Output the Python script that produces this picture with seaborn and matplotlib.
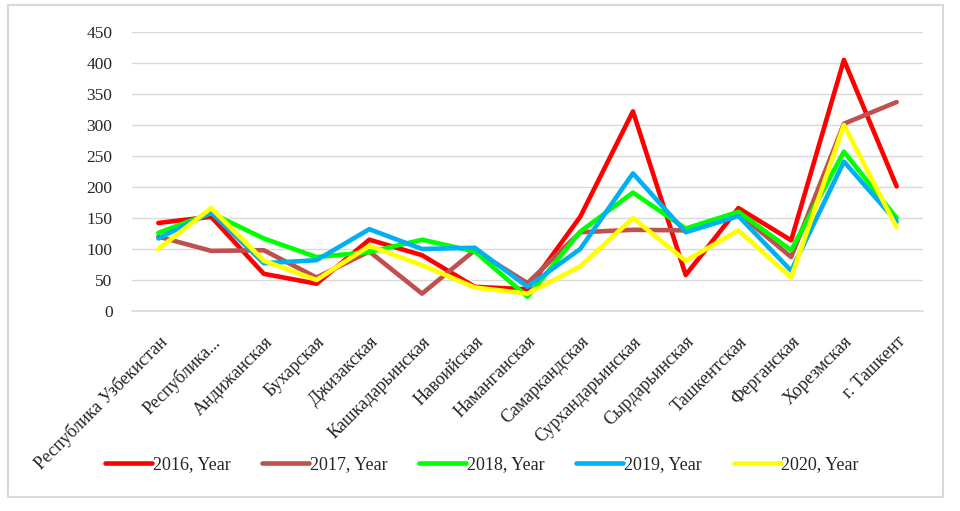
import matplotlib
matplotlib.use("Agg")
import matplotlib.pyplot as plt
import seaborn as sns
import pandas as pd
from matplotlib.patches import Rectangle

# регионы
regions = ["Республика Узбекистан", "Республика...", "Андижанская", "Бухарская",
           "Джизакская", "Кашкадарьинская", "Навоийская", "Наманганская",
           "Самаркандская", "Сурхандарьинская", "Сырдарьинская", "Ташкентская",
           "Ферганская", "Хорезмская", "г. Ташкент"]

y2016 = [142, 152, 60, 44, 115, 90, 39, 35, 152, 322, 58, 166, 114, 405, 201]
y2017 = [120, 97, 98, 54, 96, 28, 98, 45, 127, 131, 130, 158, 87, 302, 337]
y2018 = [126, 158, 117, 87, 95, 115, 96, 23, 128, 191, 133, 160, 98, 257, 150]
y2019 = [117, 159, 77, 82, 132, 100, 102, 39, 100, 222, 127, 153, 65, 241, 144]
y2020 = [100, 166, 81, 50, 105, 74, 38, 28, 72, 150, 81, 130, 54, 300, 135]

series = {"2016, Year": y2016, "2017, Year": y2017, "2018, Year": y2018,
          "2019, Year": y2019, "2020, Year": y2020}
colors = ["#FF0000", "#C0504D", "#00FF00", "#00B0F0", "#FFFF00"]

rows = []
for name, vals in series.items():
    for r, v in zip(regions, vals):
        rows.append({"region": r, "value": v, "series": name})
df = pd.DataFrame(rows)

sns.set_theme(style="white")
plt.rcParams["font.family"] = ["Liberation Serif", "DejaVu Serif"]

fig = plt.figure(figsize=(9.6, 5.11), dpi=100)
ax = fig.add_axes([132 / 960, 1 - 311 / 511, 791 / 960, 279 / 511])

sns.lineplot(data=df, x="region", y="value", hue="series", palette=colors,
             linewidth=3.3, sort=False, ax=ax)

ax.set_xlim(-0.5, len(regions) - 0.5)
ax.set_ylim(0, 450)
ax.set_yticks(range(0, 451, 50))
ax.yaxis.grid(True, color="#D9D9D9", linewidth=1)
ax.axhline(0, color="#D9D9D9", linewidth=1.2, zorder=0.5, clip_on=False)
ax.set_axisbelow(True)
for s in ax.spines.values():
    s.set_visible(False)
ax.set_xlabel("")
ax.set_ylabel("")
ax.tick_params(axis="y", length=0, labelsize=12.5, pad=14)
ax.tick_params(axis="x", length=0, labelsize=13, pad=16)
plt.setp(ax.get_xticklabels(), rotation=45, ha="right", rotation_mode="anchor")

ax.legend(loc="center", ncol=5, frameon=False,
          fontsize=13, handlelength=2.6, columnspacing=1.75, handletextpad=0.05)
leg = ax.get_legend()
leg.set_bbox_to_anchor((482 / 960, 1 - 465 / 511), transform=fig.transFigure)

# рамка диаграммы
fig.patches.append(Rectangle((8 / 960, 1 - 497 / 511), 935 / 960, 492 / 511,
                             transform=fig.transFigure, fill=False,
                             edgecolor="#D9D9D9", linewidth=1.5))

fig.savefig("out.png", dpi=100)
